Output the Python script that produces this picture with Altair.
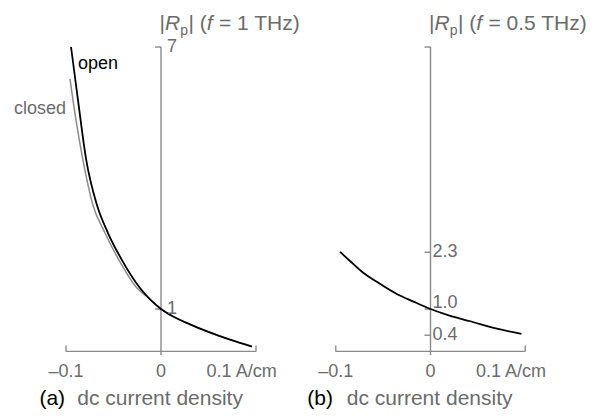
import altair as alt
import pandas as pd

FONT = "Liberation Sans"
TXT = "#6b6b6b"
AXC = "#8a8a8a"

# ---------------- data ----------------
# panel (a): |Rp| at f = 1 THz vs dc current density (A/cm)
open_x = [-0.0947, -0.0874, -0.0789, -0.0674, -0.0558, -0.0411, -0.0221, 0.0, 0.0126, 0.0305, 0.0484, 0.0726, 0.0958]
open_y = [7.00, 5.79, 4.44, 3.38, 2.74, 2.12, 1.48, 1.00, 0.83, 0.65, 0.49, 0.30, 0.14]
closed_x = [-0.0958, -0.0895, -0.0824, -0.0716, -0.0589, -0.0442, -0.0253, -0.0116, 0.0, 0.0126, 0.0305, 0.0484, 0.0726, 0.0958]
closed_y = [6.27, 5.33, 4.44, 3.38, 2.74, 2.12, 1.48, 1.23, 1.00, 0.83, 0.65, 0.49, 0.30, 0.14]
# panel (b): |Rp| at f = 0.5 THz
b_x = [-0.0955, -0.085, -0.071, -0.055, -0.036, -0.018, 0.0, 0.020, 0.042, 0.070, 0.096]
b_y = [2.31, 2.10, 1.83, 1.60, 1.35, 1.17, 1.00, 0.85, 0.72, 0.55, 0.43]

x_ticks = [-0.1, 0.0, 0.1]
x_tick_labels = ["\u20130.1", "0", "0.1 A/cm"]
x_label_pos = [-0.1, 0.0, 0.048]
a_y_ticks = [7, 1]
a_y_labels = ["7", "1"]
b_y_ticks = [7, 2.3, 1.0, 0.4]
b_y_label_vals = [2.3, 1.13, 0.4]
b_y_labels = ["2.3", "1.0", "0.4"]
y_top = 7
base_y = 0.03

H = 398
Y_DOM = [-1.2205, 7.893]


def panel(width, xdom, curves, ylab_vals, ylab_txt, ytick_vals, freq, tag, ylab_dx,
          extra_labels=None):
    X = lambda f="x": alt.X(f"{f}:Q", scale=alt.Scale(domain=xdom, nice=False, zero=False), axis=None)
    Y = lambda f="y": alt.Y(f"{f}:Q", scale=alt.Scale(domain=Y_DOM, nice=False, zero=False), axis=None)
    layers = []
    # axis lines
    xaxis = pd.DataFrame({"x": [x_ticks[0]], "x2": [x_ticks[-1]], "y": [base_y]})
    layers.append(alt.Chart(xaxis).mark_rule(color=AXC, strokeWidth=1.4).encode(
        x=X(), x2="x2:Q", y=Y()))
    yaxis = pd.DataFrame({"x": [0.0], "y": [-0.05], "y2": [y_top]})
    layers.append(alt.Chart(yaxis).mark_rule(color=AXC, strokeWidth=1.4).encode(
        x=X(), y=Y(), y2="y2:Q"))
    # x end ticks (pointing up)
    xt = pd.DataFrame({"x": [x_ticks[0], x_ticks[-1]], "y": [base_y, base_y]})
    layers.append(alt.Chart(xt).mark_tick(orient="vertical", size=6, thickness=1.4,
                                          color=AXC, yOffset=-3, opacity=1).encode(x=X(), y=Y()))
    # y ticks (pointing left)
    yt = pd.DataFrame({"x": [0.0] * len(ytick_vals), "y": ytick_vals})
    layers.append(alt.Chart(yt).mark_tick(orient="horizontal", size=6, thickness=1.4,
                                          color=AXC, xOffset=-3, opacity=1).encode(x=X(), y=Y()))
    # curves
    for cx, cy, col, sw in curves:
        df = pd.DataFrame({"x": cx, "y": cy})
        layers.append(alt.Chart(df).mark_line(color=col, strokeWidth=sw, interpolate="monotone").encode(
            x=X(), y=Y()))
    # x tick labels
    xl = pd.DataFrame({"x": x_label_pos, "y": [-0.55] * 3, "t": x_tick_labels})
    layers.append(alt.Chart(xl.iloc[:2]).mark_text(font=FONT, fontSize=18, color=TXT, align="center",
                                                   baseline="alphabetic").encode(x=X(), y=Y(), text="t:N"))
    layers.append(alt.Chart(xl.iloc[2:]).mark_text(font=FONT, fontSize=18, color=TXT, align="left",
                                                   baseline="alphabetic").encode(x=X(), y=Y(), text="t:N"))
    # y tick labels
    yl = pd.DataFrame({"x": [0.0] * len(ylab_vals), "y": ylab_vals, "t": ylab_txt})
    layers.append(alt.Chart(yl).mark_text(font=FONT, fontSize=18, color=TXT, align="left",
                                          baseline="middle", dx=ylab_dx).encode(x=X(), y=Y(), text="t:N"))
    # bottom caption
    cap = pd.DataFrame({"x": [tag[1]], "y": [-1.2], "t": [tag[0]]})
    layers.append(alt.Chart(cap).mark_text(font=FONT, fontSize=21, color="black", align="left",
                                           baseline="alphabetic").encode(x=X(), y=Y(), text="t:N"))
    cap2 = pd.DataFrame({"x": [tag[2]], "y": [-1.2], "t": ["dc current density"]})
    layers.append(alt.Chart(cap2).mark_text(font=FONT, fontSize=21, color=TXT, align="left",
                                            baseline="alphabetic").encode(x=X(), y=Y(), text="t:N"))
    # title |Rp| (f = ...)
    ty = 7.39
    pieces = [("|", 0, 0, 21, "normal"), ("R", 5.5, 0, 21, "italic"), ("p", 20.7, 5, 14, "normal"),
              ("| (", 29.0, 0, 21, "normal"), ("f", 47.3, 0, 21, "italic"),
              (f"= {freq} THz)", 59.5, 0, 21, "normal")]
    for t, dx, dy, fs, st in pieces:
        d = pd.DataFrame({"x": [0.0], "y": [ty], "t": [t]})
        layers.append(alt.Chart(d).mark_text(font=FONT, fontSize=fs, fontStyle=st, color=TXT,
                                             align="left", baseline="alphabetic", dx=dx - 1.5, dy=dy).encode(
            x=X(), y=Y(), text="t:N"))
    if extra_labels:
        for (lx, ly, t, col, al) in extra_labels:
            d = pd.DataFrame({"x": [lx], "y": [ly], "t": [t]})
            layers.append(alt.Chart(d).mark_text(font=FONT, fontSize=18, color=col, align=al,
                                                 baseline="alphabetic").encode(x=X(), y=Y(), text="t:N"))
    return alt.layer(*layers).properties(width=width, height=H)


pa = panel(292, [-0.16105, 0.14632],
           [(closed_x, closed_y, "#8c8c8c", 1.5), (open_x, open_y, "black", 1.8)],
           a_y_ticks, a_y_labels, a_y_ticks, "1", ("(a)", -0.128, -0.0882), 6,
           extra_labels=[(-0.0874, 6.50, "open", "black", "left"),
                         (-0.1, 5.47, "closed", TXT, "right")])
pb = panel(294, [-0.13773, 0.17256],
           [(b_x, b_y, "black", 1.8)],
           b_y_label_vals, b_y_labels, b_y_ticks, "0.5", ("(b)", -0.130, -0.0884), 2)

chart = alt.hconcat(pa, pb, spacing=0, bounds="flush").properties(padding=0).configure_view(stroke=None)
chart.save("out.html", embed_options={"renderer": "svg", "actions": False})
